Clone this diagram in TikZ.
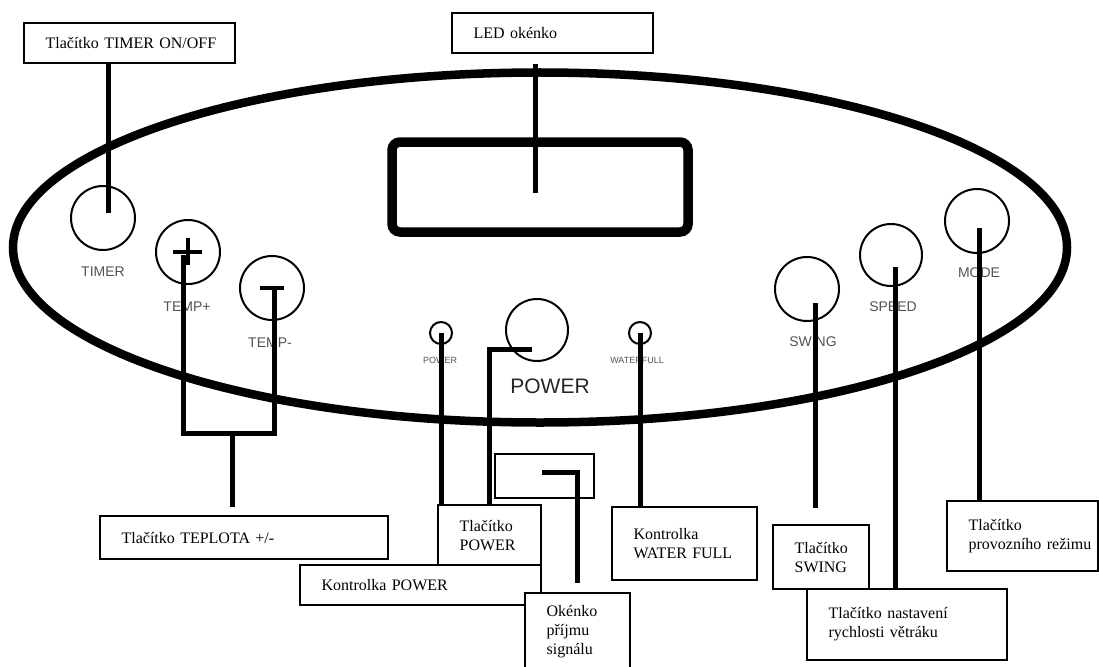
\documentclass[tikz,border=0pt]{standalone}
\usepackage{fontspec}
\setmainfont{Liberation Serif}
\newfontfamily\panelsans{Liberation Sans}
\begin{document}
\begin{tikzpicture}[x=1pt,y=-1pt,
  lbl/.style={draw, line width=2.2pt, fill=white, anchor=north west, inner xsep=21.5pt, inner ysep=0pt, align=left, font=\fontsize{16}{19}\selectfont},
  conn/.style={line width=5pt},
  btn/.style={circle, draw, line width=2pt, minimum size=64pt, inner sep=0pt},
  led/.style={circle, draw, line width=2pt, minimum size=22pt, inner sep=0pt},
  plbl/.style={text=black!68, font=\panelsans\fontsize{14}{14}\selectfont, inner sep=0pt},
  tinylbl/.style={text=black!68, font=\panelsans\fontsize{9}{9}\selectfont, inner sep=0pt},
  bar/.style={line width=4.5pt},
]
\useasboundingbox (0,0) rectangle (1099,666);

% panel outline
\draw[line width=8.5pt] (540,247.5) ellipse [x radius=527pt, y radius=175pt];

% LED window
\node[draw, line width=9.5pt, rounded corners=8pt, minimum width=296pt, minimum height=90pt, inner sep=0pt] (ledwin) at (540,187) {};

% buttons
\node[btn] (timerbtn) at (103,218) {};
\node[btn] (tplus) at (188,252) {};
\node[btn] (tminus) at (272,288) {};
\node[btn, minimum size=62pt] (powerbtn) at (537,330) {};
\node[btn] (swingbtn) at (807,289) {};
\node[btn, minimum size=62pt] (speedbtn) at (891,255) {};
\node[btn] (modebtn) at (977,221) {};
\node[led] (powerled) at (441,333) {};
\node[led] (waterled) at (640,333) {};
\node[draw, line width=2.5pt, minimum width=99pt, minimum height=44pt, inner sep=0pt] (sigwin) at (544.5,476) {};

% plus / minus signs
\draw[bar] ([xshift=-15pt]tplus.center) -- ([xshift=14pt]tplus.center);
\draw[line width=4pt] ([yshift=14pt]tplus.center) -- ([yshift=-13pt]tplus.center);
\draw[bar] ([xshift=-12pt]tminus.center) -- ([xshift=12pt]tminus.center);

% panel labels
\node[plbl] (ltimer) at (103,272) {TIMER};
\node[plbl] (ltplus) at (187,307) {TEMP+};
\node[plbl] (ltminus) at (270,343) {TEMP-};
\node[tinylbl] (lpled) at (440,360) {POWER};
\node[tinylbl] (lwled) at (637,360) {WATERFULL};
\node[text=black!85, font=\panelsans\fontsize{21}{21}\selectfont, inner sep=0pt] (lpower) at (550,386) {POWER};
\node[plbl] (lswing) at (813,342) {SWING};
\node[plbl] (lspeed) at (893,307) {SPEED};
\node[plbl] (lmode) at (979,273) {MODE};

% callout boxes (positions)
\path
 (23,22)   node[lbl, text width=168pt, minimum height=40pt] (timerbox) {\mbox{Tlačítko TIMER ON/OFF}}
 (451,12)  node[lbl, text width=158pt, minimum height=40pt] (ledbox) {LED okénko};

% connector anchor points
\coordinate (tA) at ([xshift=5pt,yshift=5pt]timerbtn.center);
\coordinate (lA) at ([xshift=-5pt,yshift=-6pt]ledwin.center);
\coordinate (lB) at ([yshift=-10pt]ledbox.south);
\coordinate (pA) at ([xshift=-5pt,yshift=-3pt]tplus.center);
\coordinate (mA) at ([xshift=2pt]tminus.center);
\coordinate (tJ) at (232,433);
\coordinate (pbA) at ([xshift=-5pt,yshift=-19pt]powerbtn.center);
\coordinate (sA) at ([xshift=-2.5pt,yshift=4pt]sigwin.center);
\coordinate (swA) at ([xshift=8pt,yshift=-14pt]swingbtn.center);
\coordinate (spA) at ([xshift=4pt,yshift=-12pt]speedbtn.center);
\coordinate (moA) at ([xshift=2pt,yshift=-7pt]modebtn.center);

\path
 (99,515)  node[lbl, text width=245pt, minimum height=43pt, draw=none, fill=none] (tepbox) {}
 (437,504) node[lbl, text width=60pt, minimum height=60pt, draw=none, fill=none] (pwrbox) {}
 (299,564) node[lbl, text width=198pt, minimum height=40pt, draw=none, fill=none] (kpbox) {}
 (524,592) node[lbl, text width=62pt, minimum height=78pt, draw=none, fill=none] (okbox) {}
 (611,506) node[lbl, text width=102pt, minimum height=73pt, draw=none, fill=none] (wfbox) {}
 (772,524) node[lbl, text width=53pt, minimum height=64pt, draw=none, fill=none] (swbox) {}
 (806,588) node[lbl, text width=157pt, minimum height=71pt, draw=none, fill=none] (nsbox) {}
 (946,500) node[lbl, text width=108pt, minimum height=70pt, draw=none, fill=none] (rbox) {};

\coordinate (tC) at ([xshift=-11pt,yshift=8pt]tepbox.north);
\coordinate (sB) at ([yshift=9pt]okbox.north);
\coordinate (swB) at ([yshift=16pt]swbox.north);

% connectors
\draw[conn] (tA) -- (tA |- timerbox.south);
\draw[conn] (lA) -- (lA |- lB);
\draw[conn] (pA) |- (tJ) -| (mA);
\draw[conn] (tJ) -- (tJ |- tC);
\draw[conn] (powerled.center) -- (powerled.center |- kpbox.north);
\draw[conn] (pbA) -| (pwrbox.north);
\draw[conn] (sA) -| (sB);
\draw[conn] (waterled.center) -- (waterled.center |- wfbox.north);
\draw[conn] (swA) -- (swA |- swB);
\draw[conn] (spA) -- (spA |- nsbox.north);
\draw[conn] (moA) -- (moA |- rbox.north);

% visible callout boxes
\path
 (99,515)  node[lbl, text width=245pt, minimum height=43pt] {\mbox{Tlačítko TEPLOTA +/-}}
 (299,564) node[lbl, text width=198pt, minimum height=40pt] {Kontrolka POWER}
 (437,504) node[lbl, text width=60pt, minimum height=60pt] {\mbox{Tlačítko}\\\mbox{POWER}}
 (524,592) node[lbl, text width=62pt, minimum height=78pt] {\mbox{Okénko}\\\mbox{příjmu}\\\mbox{signálu}}
 (611,506) node[lbl, text width=102pt, minimum height=73pt] {\mbox{Kontrolka}\\\mbox{WATER FULL}}
 (772,524) node[lbl, text width=53pt, minimum height=64pt] {\mbox{Tlačítko}\\\mbox{SWING}}
 (806,588) node[lbl, text width=157pt, minimum height=71pt] {\mbox{Tlačítko nastavení}\\\mbox{rychlosti větráku}}
 (946,500) node[lbl, text width=108pt, minimum height=70pt] {\mbox{Tlačítko}\\\mbox{provozního režimu}};
\end{tikzpicture}
\end{document}
